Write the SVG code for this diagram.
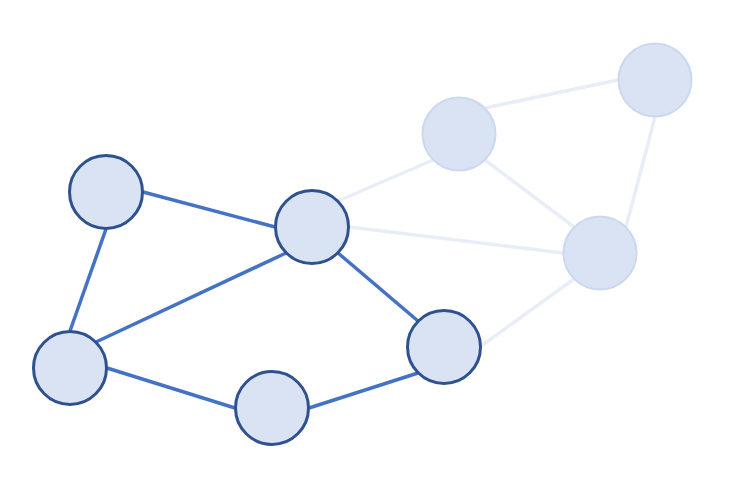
<svg xmlns="http://www.w3.org/2000/svg" width="732" height="482" viewBox="0 0 732 482">
<style>
.e{stroke:#4472C4;stroke-width:3.5;fill:none}
.f{stroke:#E8EDF7;stroke-width:3.5;fill:none}
.n{fill:#DAE3F3;stroke:#2F528F;stroke-width:3}
.m{fill:#DAE3F3;stroke:#CCD8EF;stroke-width:2}
</style>
<rect width="732" height="482" fill="#FFFFFF"/>
<g id="connectors">
<line class="f" x1="338" y1="201" x2="433" y2="160"/>
<line class="f" x1="349" y1="227" x2="563" y2="253"/>
<line class="f" x1="485" y1="108" x2="618" y2="80"/>
<line class="f" x1="485" y1="160" x2="574" y2="227"/>
<line class="f" x1="655" y1="117" x2="626" y2="227"/>
<line class="f" x1="481" y1="346" x2="574" y2="279"/>
<line class="e" x1="143" y1="192" x2="275" y2="227"/>
<line class="e" x1="106" y1="229" x2="70" y2="331"/>
<line class="e" x1="96" y1="342" x2="286" y2="253"/>
<line class="e" x1="107" y1="368" x2="235" y2="408"/>
<line class="e" x1="309" y1="408" x2="418" y2="373"/>
<line class="e" x1="338" y1="253" x2="418" y2="321"/>
</g>
<g id="node-F"><circle class="m" cx="459" cy="134" r="36.5"/></g>
<g id="node-G"><circle class="m" cx="655" cy="80" r="36.5"/></g>
<g id="node-H"><circle class="m" cx="600" cy="253" r="36.5"/></g>
<g id="node-A"><circle class="n" cx="106" cy="192" r="36.5"/></g>
<g id="node-B"><circle class="n" cx="312" cy="227" r="36.5"/></g>
<g id="node-C"><circle class="n" cx="70" cy="368" r="36.5"/></g>
<g id="node-D"><circle class="n" cx="272" cy="408" r="36.5"/></g>
<g id="node-E"><circle class="n" cx="444" cy="347" r="36.5"/></g>
</svg>
